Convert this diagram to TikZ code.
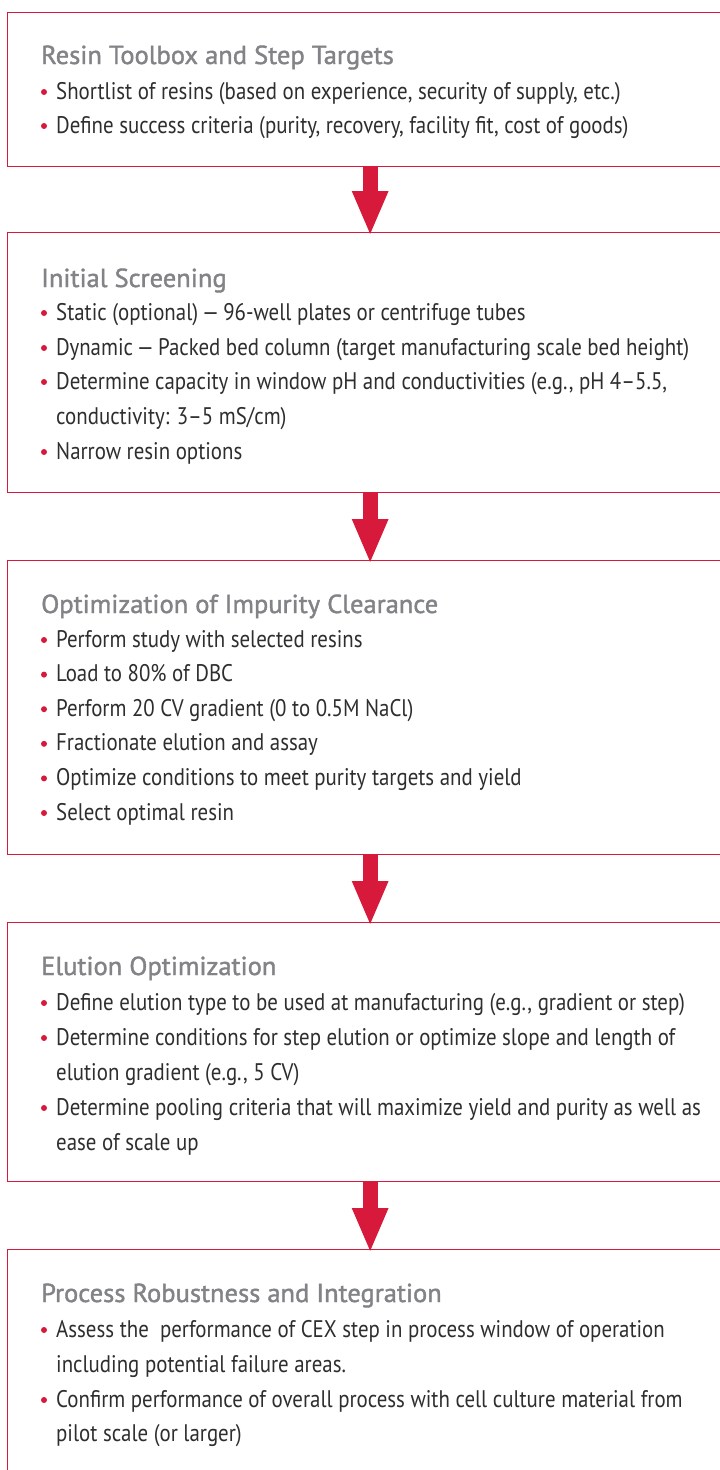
\documentclass[tikz,border=0pt]{standalone}
\usepackage{fontspec}
\usetikzlibrary{arrows.meta,calc}
\newfontfamily\bodyfont[FakeStretch=0.87]{PT Sans}
\newfontfamily\titlefont[FakeStretch=1.02,FakeBold=1.5]{PT Sans}
\definecolor{cred}{HTML}{D71A3C}
\definecolor{ctitle}{HTML}{818386}
\definecolor{cbody}{HTML}{2E2E2E}
\tikzset{
  box/.style={draw=cred, line width=1.3pt, rectangle, inner sep=0pt, anchor=north west, minimum width=725pt},
  flowarrow/.style={draw=cred, line width=15pt, -{Triangle[length=45pt,width=33pt]}},
  ttl/.style={anchor=base west, inner sep=0pt, text=ctitle, font=\titlefont\fontsize{26}{30}\selectfont},
  txt/.style={anchor=base west, inner sep=0pt, text=cbody, font=\bodyfont\fontsize{24}{28}\selectfont},
  dot/.style={circle, fill=cred, inner sep=0pt, minimum size=6pt}
}
\newcommand{\bul}[3]{%
  \node[dot] (#1d) at (44,#2-7) {};
  \node[txt] (#1) at (56,#2) {#3};}
\newcommand{\cont}[3]{\node[txt] (#1) at (56,#2) {#3};}
\begin{document}
\begin{tikzpicture}[x=1pt,y=-1pt]
\useasboundingbox (0,0) rectangle (720,1470);
\clip (0,0) rectangle (720,1470);
\fill[white] (0,0) rectangle (720,1470);
% boxes
\node[box, minimum height=154pt] (b1) at (7,12) {};
\node[box, minimum height=260pt] (b2) at (7,232) {};
\node[box, minimum height=294pt] (b3) at (7,560) {};
\node[box, minimum height=259pt] (b4) at (7,922) {};
\node[box, minimum height=260pt] (b5) at (7,1249) {};
% arrows
\draw[flowarrow] (b1.south) -- ($(b2.north)+(0,4)$);
\draw[flowarrow] (b2.south) -- ($(b3.north)+(0,4)$);
\draw[flowarrow] (b3.south) -- ($(b4.north)+(0,4)$);
\draw[flowarrow] (b4.south) -- ($(b5.north)+(0,4)$);
% box 1
\node[ttl] (t1) at (41,64) {Resin Toolbox and Step Targets};
\bul{a1}{99}{Shortlist of resins (based on experience, security of supply, etc.)}
\bul{a2}{133}{Define success criteria (purity, recovery, facility fit, cost of goods)}
% box 2
\node[ttl] (t2) at (41,287) {Initial Screening};
\bul{c1}{320}{Static (optional)\,—\,96-well plates or centrifuge tubes}
\bul{c2}{355}{Dynamic\,—\,Packed bed column (target manufacturing scale bed height)}
\bul{c3}{389}{Determine capacity in window pH and conductivities (e.g., pH 4–5.5,}
\cont{c3b}{424}{conductivity: 3–5 mS/cm)}
\bul{c4}{459}{Narrow resin options}
% box 3
\node[ttl] (t3) at (41,613) {Optimization of Impurity Clearance};
\bul{e1}{647}{Perform study with selected resins}
\bul{e2}{681.6}{Load to 80\% of DBC}
\bul{e3}{716.2}{Perform 20 CV gradient (0 to 0.5M NaCl)}
\bul{e4}{750.8}{Fractionate elution and assay}
\bul{e5}{785.4}{Optimize conditions to meet purity targets and yield}
\bul{e6}{820}{Select optimal resin}
% box 4
\node[ttl] (t4) at (41,975) {Elution Optimization};
\bul{g1}{1010}{Define elution type to be used at manufacturing (e.g., gradient or step)}
\bul{g2}{1045}{Determine conditions for step elution or optimize slope and length of}
\cont{g2b}{1080}{elution gradient (e.g., 5 CV)}
\bul{g3}{1115}{Determine pooling criteria that will maximize yield and purity as well as}
\cont{g3b}{1150}{ease of scale up}
% box 5
\node[ttl] (t5) at (41,1302) {Process Robustness and Integration};
\bul{h1}{1337}{Assess the\ \ performance of CEX step in process window of operation}
\cont{h1b}{1372}{including potential failure areas.}
\bul{h2}{1407}{Confirm performance of overall process with cell culture material from}
\cont{h2b}{1441}{pilot scale (or larger)}
\end{tikzpicture}
\end{document}
